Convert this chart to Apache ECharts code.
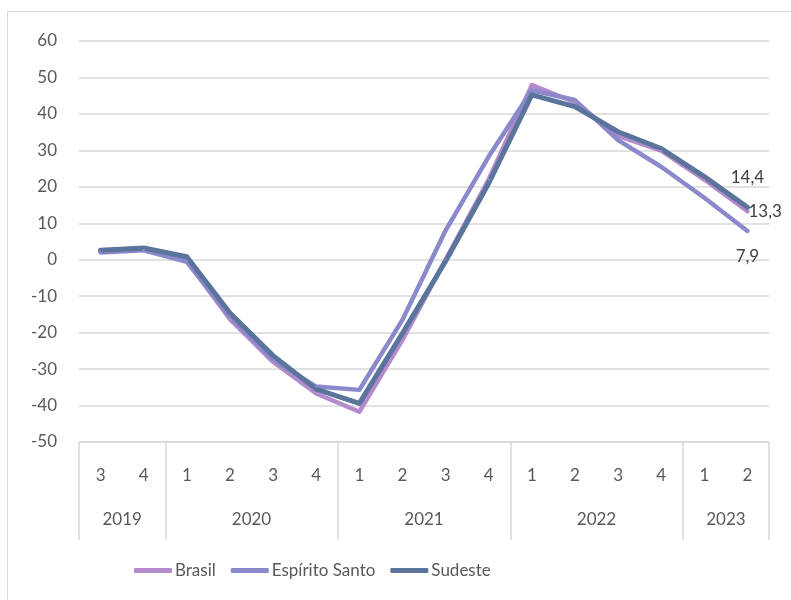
<!DOCTYPE html>
<html>
<head>
<meta charset="utf-8">
<script src="https://cdn.jsdelivr.net/npm/echarts@6/dist/echarts.min.js"></script>
<style>
  html, body { margin: 0; padding: 0; background: #fff; }
  #frame { position: absolute; left: 7px; top: 11px; width: 820px; height: 620px; border: 1.5px solid #d9d9d9; }
  #chart { position: absolute; left: 0; top: 0; width: 791px; height: 600px; }
</style>
</head>
<body>
<div id="frame"></div>
<div id="chart"></div>
<script>
  // trimestres de 2019 T3 a 2023 T2
  var quarters = ['3', '4', '1', '2', '3', '4', '1', '2', '3', '4', '1', '2', '3', '4', '1', '2'];
  var years = ['2019', '2020', '2021', '2022', '2023'];
  var yearQuarters = [2, 4, 4, 4, 2];

  var brasil = [2.2, 2.8, -0.3, -16.3, -28.0, -36.7, -41.7, -22.0, 0.0, 22.0, 47.9, 43.2, 34.0, 29.9, 22.0, 13.3];
  var espiritoSanto = [2.0, 2.6, -0.6, -15.5, -27.4, -34.8, -35.7, -16.5, 8.0, 28.3, 46.5, 43.8, 32.8, 25.5, 17.0, 7.9];
  var sudeste = [2.6, 3.2, 0.8, -14.6, -26.3, -35.5, -39.4, -20.2, -0.4, 21.0, 45.2, 42.0, 35.1, 30.5, 22.8, 14.4];

  var yTicks = { min: -50, max: 60, interval: 10 };

  // inicio de cada ano (indices) e posicao do rotulo do ano
  var yearStarts = [];
  var yearCenters = {};
  var acc = 0;
  years.forEach(function (y, i) {
    yearStarts.push(acc);
    yearCenters[acc + yearQuarters[i] / 2] = y;
    acc += yearQuarters[i];
  });

  var fmt = function (v) { return String(v).replace('.', ','); };
  var txt = '#595959';
  var gridColor = '#d9d9d9';
  var font = 'Lato, "Open Sans", sans-serif';

  // so o ultimo ponto leva rotulo
  function lastLabel(data, pos, dist) {
    return data.map(function (v, i) {
      if (i !== data.length - 1) return v;
      return {
        value: v,
        label: { show: true, position: pos, distance: dist, formatter: function (p) { return fmt(p.value); },
          color: '#404040', fontSize: 17, fontFamily: font }
      };
    });
  }

  var chart = echarts.init(document.getElementById('chart'));
  var option = {
    animation: false,
    textStyle: { fontFamily: font },
    grid: { left: 79, right: 22, top: 41, bottom: 158 },
    legend: {
      bottom: 16,
      left: 129,
      itemWidth: 38,
      itemHeight: 5,
      itemGap: 15,
      icon: 'roundRect',
      textStyle: { color: txt, fontSize: 17, fontFamily: font, padding: [0, 0, 0, -2] },
      data: ['Brasil', 'Espírito Santo', 'Sudeste']
    },
    xAxis: [
      {
        type: 'category',
        data: quarters,
        boundaryGap: true,
        axisLine: { onZero: false, lineStyle: { color: gridColor, width: 1.5 } },
        axisTick: {
          show: true,
          length: 98,
          interval: function (idx) { return yearStarts.indexOf(idx) >= 0; },
          lineStyle: { color: gridColor, width: 1.5 }
        },
        axisLabel: { interval: 0, margin: 25, color: txt, fontSize: 17, fontFamily: font }
      },
      {
        type: 'value',
        position: 'bottom',
        offset: 0,
        min: 0,
        max: quarters.length,
        interval: 0.5,
        axisLine: { show: false, onZero: false },
        axisTick: { show: false },
        splitLine: { show: false },
        axisLabel: {
          margin: 69,
          color: txt,
          fontSize: 17,
          fontFamily: font,
          formatter: function (v) { return yearCenters[v] || ''; }
        }
      }
    ],
    yAxis: {
      type: 'value',
      min: yTicks.min,
      max: yTicks.max,
      interval: yTicks.interval,
      axisLine: { show: false },
      axisTick: { show: false },
      splitLine: { lineStyle: { color: gridColor, width: 1.5 } },
      axisLabel: { margin: 22, color: txt, fontSize: 17, fontFamily: font }
    },
    series: [
      {
        name: 'Brasil',
        type: 'line',
        xAxisIndex: 0,
        data: lastLabel(brasil, 'right', 0),
        symbol: 'circle',
        symbolSize: 2,
        color: '#b38acb',
        lineStyle: { width: 4.5, cap: 'round', join: 'round' }
      },
      {
        name: 'Espírito Santo',
        type: 'line',
        xAxisIndex: 0,
        data: lastLabel(espiritoSanto, 'bottom', 16),
        symbol: 'circle',
        symbolSize: 2,
        color: '#8b89cb',
        lineStyle: { width: 4.5, cap: 'round', join: 'round' }
      },
      {
        name: 'Sudeste',
        type: 'line',
        xAxisIndex: 0,
        data: lastLabel(sudeste, 'top', 20),
        symbol: 'circle',
        symbolSize: 2,
        color: '#5b749b',
        lineStyle: { width: 5, cap: 'round', join: 'round' }
      }
    ]
  };
  chart.setOption(option);
</script>
</body>
</html>
